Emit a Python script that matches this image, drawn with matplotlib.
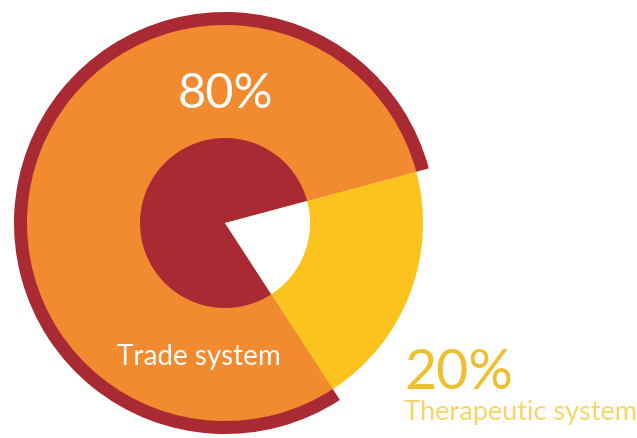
import matplotlib.pyplot as plt

# System shares
labels = ["Trade system", "Therapeutic system"]
shares = [80, 20]

orange = "#f28a30"
dark_red = "#a92a32"
yellow = "#fcc31e"

fig = plt.figure(figsize=(6.37, 4.39), dpi=100)
ax = fig.add_axes([0, 0, 1, 1])

center = (225, 215)
start = 15

# dark red rim behind the trade slice
ax.pie(shares, colors=[dark_red, "none"], radius=211, center=center,
       startangle=start, frame=True, wedgeprops=dict(linewidth=0))
# main slices
ax.pie(shares, colors=[orange, yellow], radius=198, center=center,
       startangle=start, frame=True, wedgeprops=dict(linewidth=0))
# inner disc
ax.pie(shares, colors=[dark_red, "white"], radius=85, center=center,
       startangle=start, frame=True, wedgeprops=dict(linewidth=0))

ax.set_xlim(0, 637)
ax.set_ylim(0, 439)
ax.set_aspect("equal")
ax.axis("off")

font = ["Lato", "DejaVu Sans"]
ax.text(225, 439 - 94, f"{shares[0]}%", color="white", fontsize=35,
        ha="center", va="center", family=font)
ax.text(199, 439 - 357, labels[0], color="white", fontsize=20,
        ha="center", va="center", family=font)
ax.text(404, 439 - 374, f"{shares[1]}%", color="#eec030", fontsize=40,
        ha="left", va="center", family=font)
ax.text(404, 439 - 413, labels[1], color="#f7d668", fontsize=19.5,
        ha="left", va="center", family=font)

fig.savefig("out.png", dpi=100)
